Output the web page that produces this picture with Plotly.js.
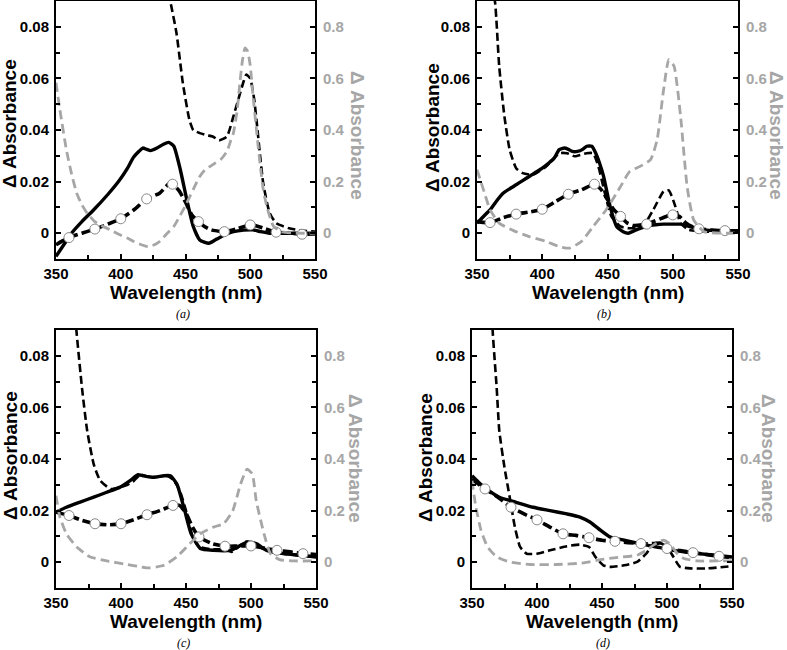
<!DOCTYPE html>
<html>
<head>
<meta charset="utf-8">
<script src="https://cdn.plot.ly/plotly-3.0.1.min.js"></script>
<style>html,body{margin:0;padding:0;background:#fff}#chart{width:787px;height:650px}</style>
</head>
<body>
<div id="chart"></div>
<script>
// ---------- Panel (a) ----------
const a_solid_x = [350,356,362,370,379,390,399,405,410,417,420,423,428,433,437,441,446,451,456,461,468,474,481,487,495,502,508,515,525,540,550];
const a_solid_y = [-0.009,-0.0045,0,0.0045,0.009,0.015,0.0205,0.025,0.0295,0.033,0.0325,0.032,0.033,0.0345,0.0352,0.0337,0.0246,0.013,0.0026,-0.0026,-0.0039,-0.0023,-0.0005,0.0006,0.0012,0.0013,0.0006,0,0,0,0];
const a_circ_x = [350,355,360,370,380,390,400,410,420,430,438,440,445,450,455,460,465,470,480,490,500,505,510,520,530,540,550];
const a_circ_y = [-0.0045,-0.003,-0.0017,0,0.0016,0.0035,0.0056,0.009,0.0133,0.0155,0.0195,0.019,0.0165,0.012,0.007,0.0045,0.0025,0.0013,0.0006,0.0018,0.0032,0.0028,0.002,0.0004,0,-0.0004,-0.0003];
const a_thin_x = [425,432,438,443,448,453,456,461,466,471,476,482,487,492,495,497,500,503,505,510,515,520,530,540,550];
const a_thin_y = [0.13,0.105,0.0906,0.0777,0.058,0.044,0.040,0.0388,0.038,0.0375,0.036,0.0375,0.0453,0.054,0.059,0.0615,0.060,0.052,0.043,0.0194,0.0078,0.0039,0.0019,0.001,0.0006];
const a_gray_x = [350,353,358,362,366,370,374,380,386,392,398,405,410,415,421,426,430,435,441,446,451,456,461,465,469,473,477,482,485,487,490,492,494,496,498,500,502,505,508,510,513,518,525,535,550];
const a_gray_y = [0.583,0.479,0.324,0.23,0.155,0.11,0.078,0.045,0.027,0.013,-0.003,-0.019,-0.032,-0.043,-0.052,-0.045,-0.032,-0.005,0.026,0.07,0.117,0.17,0.22,0.245,0.259,0.272,0.285,0.317,0.36,0.388,0.48,0.583,0.67,0.718,0.705,0.65,0.54,0.39,0.25,0.17,0.1,0.026,0.005,0,0];
const a_mark_y = [-0.0017,0.0016,0.0056,0.0133,0.019,0.0045,0.0006,0.0032,0.0004,-0.0004];

// ---------- Panel (b) ----------
const b_solid_x = [350,355,360,365,370,375,380,385,390,395,400,405,409,413,417,420,423,427,431,434,438,441,444,447,452,457,462,466,472,480,487,493,500,506,513,518,524,535,550];
const b_solid_y = [0.0039,0.0065,0.009,0.0125,0.0155,0.0172,0.0188,0.0204,0.022,0.0236,0.0252,0.0272,0.029,0.0324,0.033,0.0325,0.0317,0.0317,0.0325,0.0337,0.0337,0.031,0.027,0.022,0.0104,0.0026,0.0006,0,0.0013,0.0028,0.0033,0.0035,0.0035,0.0035,0.0026,0.002,0.0013,0.001,0.001];
const b_circ_x = [350,360,370,380,390,400,410,420,430,440,445,450,455,460,465,470,480,490,495,500,505,510,515,520,530,540,550];
const b_circ_y = [0.0045,0.0041,0.006,0.0074,0.0082,0.0093,0.0122,0.0151,0.0168,0.019,0.017,0.013,0.009,0.0065,0.004,0.003,0.0035,0.0055,0.0065,0.0071,0.0065,0.004,0.0025,0.0017,0.0012,0.001,0.0008];
const b_thin_x = [358,364,367,371,375,380,385,393,403,413,419,425,434,439,443,448,453,460,467,477,485,493,497,502,506,512,524,550];
const b_thin_y = [0.11,0.0887,0.0647,0.0453,0.0324,0.0252,0.0233,0.0227,0.0259,0.031,0.031,0.0298,0.031,0.031,0.0259,0.0155,0.0065,0.0026,0.0019,0.0026,0.009,0.0162,0.0166,0.0104,0.0039,0.0013,0.0006,0.0004];
const b_gray_x = [350,355,360,367,378,390,403,413,421,430,439,449,460,467,475,483,488,493,497,501,506,511,516,524,539,550];
const b_gray_y = [0.246,0.168,0.091,0.039,0.010,-0.013,-0.032,-0.052,-0.058,-0.032,0.026,0.091,0.181,0.239,0.259,0.285,0.362,0.557,0.673,0.647,0.453,0.181,0.052,0.006,0,0];
const b_mark_y = [0.0041,0.0074,0.0093,0.0151,0.019,0.0065,0.0035,0.0071,0.0017,0.001];

// ---------- Panel (c) ----------
const c_solid_x = [350,358,368,379,389,399,407,413,417,425,433,438,443,449,454,461,471,484,490,497,504,512,525,538,550];
const c_solid_y = [0.0194,0.0213,0.0232,0.0252,0.0271,0.029,0.0316,0.0339,0.0335,0.0329,0.0335,0.0335,0.0303,0.02,0.011,0.0053,0.0046,0.0046,0.006,0.0078,0.0072,0.0046,0.0033,0.0027,0.002];
const c_circ_x = [350,360,370,380,390,400,410,420,430,440,445,450,455,460,470,480,490,500,510,520,530,540,550];
const c_circ_y = [0.0194,0.0181,0.0162,0.0149,0.0145,0.0149,0.0165,0.0184,0.02,0.022,0.022,0.019,0.0136,0.0098,0.0072,0.0062,0.0063,0.0063,0.0055,0.0046,0.004,0.0033,0.003];
const c_thin_x = [364,366,370,374,379,384,392,399,405,410,415,420,425,430,435,440,445,450,455,460,470,480,485,488,492,496,500,505,510,520,530,540,550];
const c_thin_y = [0.1,0.0881,0.0675,0.0509,0.038,0.0316,0.0284,0.029,0.030,0.0316,0.034,0.0333,0.033,0.0332,0.0335,0.032,0.028,0.02,0.01,0.006,0.005,0.005,0.004,0.005,0.0065,0.008,0.0075,0.0065,0.005,0.0035,0.003,0.0025,0.002];
const c_gray_x = [350,353,358,366,376,389,404,415,422,433,443,453,461,471,479,486,492,497,501,504,510,515,522,533,550];
const c_gray_y = [0.258,0.175,0.110,0.059,0.021,0.005,-0.008,-0.018,-0.022,-0.012,0.021,0.072,0.110,0.136,0.149,0.2,0.303,0.361,0.342,0.239,0.110,0.033,0.010,0.005,0.005];
const c_mark_y = [0.0181,0.0149,0.0149,0.0184,0.022,0.0098,0.0062,0.0063,0.0046,0.0033];

// ---------- Panel (d) ----------
const d_solid_x = [350,355,361,371,384,397,410,423,433,441,449,456,467,479,492,505,518,531,550];
const d_solid_y = [0.0335,0.031,0.0284,0.0252,0.0232,0.0213,0.02,0.0187,0.0175,0.0155,0.0123,0.0098,0.0085,0.0072,0.0059,0.0046,0.0037,0.003,0.002];
const d_circ_x = [350,360,370,380,390,400,410,420,430,440,450,460,470,480,490,495,500,510,520,530,540,550];
const d_circ_y = [0.0322,0.0284,0.0252,0.0213,0.0187,0.0164,0.0136,0.011,0.0104,0.0095,0.0085,0.0081,0.0076,0.0072,0.0072,0.0074,0.0053,0.0045,0.0037,0.003,0.0023,0.0018];
const d_thin_x = [365,366,369,371,375,379,383,387,392,400,410,423,433,440,445,451,456,467,477,484,490,495,500,505,510,518,531,550];
const d_thin_y = [0.1,0.0887,0.0675,0.0509,0.0367,0.0252,0.0136,0.0059,0.0033,0.0033,0.0046,0.0062,0.0068,0.0059,0.002,-0.0012,-0.0018,-0.0012,0.0001,0.0033,0.0072,0.0074,0.0059,0.002,-0.0018,-0.0024,-0.0024,-0.0015];
const d_gray_x = [350,353,357,362,369,379,395,415,436,449,461,477,484,492,497,502,508,513,523,538,550];
const d_gray_y = [0.316,0.213,0.123,0.059,0.021,0.001,-0.009,-0.009,-0.003,0.010,0.018,0.027,0.046,0.074,0.085,0.072,0.033,0.014,0.005,0.005,0.005];
const d_mark_y = [0.0284,0.0213,0.0164,0.011,0.0095,0.0081,0.0072,0.0053,0.0037,0.0023];

const mark_x = [360,380,400,420,440,460,480,500,520,540];
const captions = ['(a)','(b)','(c)','(d)'];
const xTitle = 'Wavelength (nm)';
const yTitle = 'Δ Absorbance';

// ---------- layout geometry (pixels) ----------
const W = 787, H = 650;
const boxes = [
  {x0:56, x1:315, y0:1, y1:259, lt:[9,124], rt:[358,135], cap:[183,314]},
  {x0:477, x1:738, y0:1, y1:259, lt:[432,128], rt:[777,135], cap:[604,314]},
  {x0:56, x1:316, y0:330, y1:588, lt:[10,456], rt:[356,458], cap:[183,643]},
  {x0:472, x1:732, y0:330, y1:588, lt:[425,458], rt:[769,458], cap:[603,643]}
];
const px = v => v / W, py = v => 1 - v / H;

const GRAY = '#a6a6a6';
const FONT = 'Liberation Sans, Arial, sans-serif';
const panels = [
  {sx:a_solid_x, sy:a_solid_y, cx:a_circ_x, cy:a_circ_y, tx:a_thin_x, ty:a_thin_y, gx:a_gray_x, gy:a_gray_y, my:a_mark_y},
  {sx:b_solid_x, sy:b_solid_y, cx:b_circ_x, cy:b_circ_y, tx:b_thin_x, ty:b_thin_y, gx:b_gray_x, gy:b_gray_y, my:b_mark_y},
  {sx:c_solid_x, sy:c_solid_y, cx:c_circ_x, cy:c_circ_y, tx:c_thin_x, ty:c_thin_y, gx:c_gray_x, gy:c_gray_y, my:c_mark_y},
  {sx:d_solid_x, sy:d_solid_y, cx:d_circ_x, cy:d_circ_y, tx:d_thin_x, ty:d_thin_y, gx:d_gray_x, gy:d_gray_y, my:d_mark_y}
];

const traces = [];
const layout = {
  width: W, height: H, showlegend: false,
  margin: {l:0, r:0, t:0, b:0},
  paper_bgcolor: '#fff', plot_bgcolor: 'rgba(0,0,0,0)',
  font: {family: FONT, color: '#000'},
  annotations: []
};

panels.forEach((p, i) => {
  const xa = 'x' + (i + 1), yl = 'y' + (2*i + 1), yr = 'y' + (2*i + 2);
  const b = boxes[i];
  const sp = {shape: 'spline', smoothing: 0.5};
  traces.push({x:p.gx, y:p.gy, xaxis:xa, yaxis:yr, mode:'lines', line:Object.assign({color:GRAY, width:2.8, dash:'9px,5px'}, sp), hoverinfo:'skip'});
  traces.push({x:p.tx, y:p.ty, xaxis:xa, yaxis:yl, mode:'lines', line:Object.assign({color:'#000', width:2.6, dash:'8px,4px'}, sp), hoverinfo:'skip'});
  traces.push({x:p.sx, y:p.sy, xaxis:xa, yaxis:yl, mode:'lines', line:Object.assign({color:'#000', width:3.4}, sp), hoverinfo:'skip'});
  traces.push({x:p.cx, y:p.cy, xaxis:xa, yaxis:yl, mode:'lines', line:Object.assign({color:'#000', width:3.6, dash:'10px,4px'}, sp), hoverinfo:'skip'});
  traces.push({x:mark_x, y:p.my, xaxis:xa, yaxis:yl, mode:'markers', marker:{color:'#fff', size:10, line:{color:'#888', width:1}}, hoverinfo:'skip'});

  const xk = 'xaxis' + (i === 0 ? '' : (i + 1));
  const ylk = 'yaxis' + (i === 0 ? '' : (2*i + 1));
  const yrk = 'yaxis' + (2*i + 2);
  const dom = [px(b.x0), px(b.x1)];
  const ydom = [py(b.y1), py(b.y0)];
  layout[xk] = {
    domain: dom, anchor: yl, range: [350, 550], dtick: 50, tick0: 350,
    showgrid: false, zeroline: false, showline: true, mirror: true, linecolor: '#000', linewidth: 2,
    ticks: 'inside', ticklen: 5, tickwidth: 2, tickcolor: '#000',
    minor: {dtick: 25, ticks: 'inside', ticklen: 4, tickwidth: 2, tickcolor: '#000'},
    tickfont: {family: FONT, size: 15, weight: 'bold', color: '#000'}
  };
  layout[ylk] = {
    domain: ydom, anchor: xa, range: [-0.01, 0.09], dtick: 0.02, tick0: 0,
    showgrid: false, zeroline: false, showline: true, linecolor: '#000', linewidth: 2,
    ticks: 'inside', ticklen: 5, tickwidth: 2, tickcolor: '#000',
    minor: {dtick: 0.01, ticks: 'inside', ticklen: 4, tickwidth: 2, tickcolor: '#000'},
    tickfont: {family: FONT, size: 15, weight: 'bold', color: '#000'}, ticklabelstandoff: 2
  };
  layout[yrk] = {
    domain: ydom, anchor: xa, overlaying: yl, side: 'right', range: [-0.1, 0.9], dtick: 0.2, tick0: 0,
    showgrid: false, zeroline: false, showline: true, linecolor: '#000', linewidth: 2,
    ticks: 'inside', ticklen: 5, tickwidth: 2, tickcolor: '#000',
    minor: {dtick: 0.1, ticks: 'inside', ticklen: 4, tickwidth: 2, tickcolor: '#000'},
    tickfont: {family: FONT, size: 15, weight: 'bold', color: GRAY}, ticklabelstandoff: 3
  };
  layout.annotations.push({xref:'paper', yref:'paper', x:px((b.x0+b.x1)/2), y:py(b.y1 + 33), text:xTitle, showarrow:false, xanchor:'center', yanchor:'middle', font:{family:FONT, size:19, weight:'bold', color:'#000'}});
  layout.annotations.push({xref:'paper', yref:'paper', x:px(b.lt[0]), y:py(b.lt[1]), text:yTitle, textangle:-90, showarrow:false, xanchor:'center', yanchor:'middle', font:{family:FONT, size:19, weight:'bold', color:'#000'}});
  layout.annotations.push({xref:'paper', yref:'paper', x:px(b.rt[0]), y:py(b.rt[1]), text:yTitle, textangle:90, showarrow:false, xanchor:'center', yanchor:'middle', font:{family:FONT, size:19, weight:'bold', color:GRAY}});
  layout.annotations.push({xref:'paper', yref:'paper', x:px(b.cap[0]), y:py(b.cap[1]), text:captions[i], showarrow:false, xanchor:'center', yanchor:'middle', font:{family:'Liberation Serif, Times New Roman, serif', size:12, style:'italic', color:'#000'}});
});

Plotly.newPlot('chart', traces, layout, {staticPlot: true, displayModeBar: false});
</script>
</body>
</html>
